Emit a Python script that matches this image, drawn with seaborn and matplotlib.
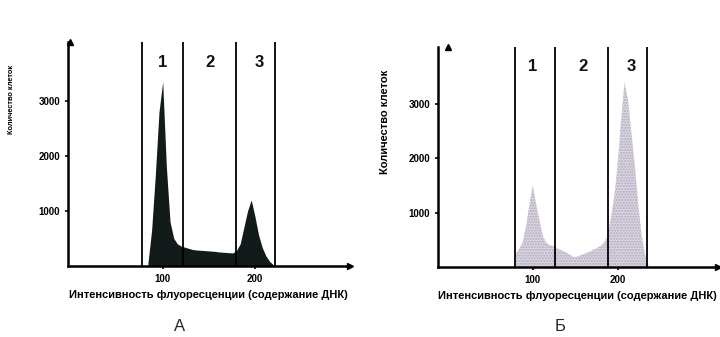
#!/usr/bin/env python3

import numpy as np
import pandas as pd
import matplotlib
matplotlib.use("Agg")
import matplotlib.pyplot as plt
import seaborn as sns

# DNA content histograms, bin width 4 (fluorescence units)
centers_a = [84, 88, 92, 96, 100, 104, 108, 112, 116, 120, 124, 128, 132, 136,
             140, 144, 148, 152, 156, 160, 164, 168, 172, 176, 180, 184, 188,
             192, 196, 200, 204, 208, 212, 216, 220]
counts_a = [50, 650, 1650, 2800, 3350, 1800, 800, 500, 400, 360, 340, 320, 300,
            290, 285, 280, 275, 270, 265, 255, 250, 245, 240, 235, 280, 400,
            700, 1000, 1200, 900, 560, 330, 180, 80, 20]

centers_b = [80, 84, 88, 92, 96, 100, 104, 108, 112, 116, 120, 124, 128, 132,
             136, 140, 144, 148, 152, 156, 160, 164, 168, 172, 176, 180, 184,
             188, 192, 196, 200, 204, 208, 212, 216, 220, 224, 228, 232, 236]
counts_b = [250, 330, 450, 750, 1150, 1500, 1150, 850, 560, 440, 400, 390, 350,
            320, 290, 260, 220, 180, 190, 210, 240, 260, 290, 320, 350, 390,
            450, 570, 900, 1300, 1900, 2700, 3400, 3100, 2500, 1900, 1200, 600,
            250, 50]

# gates separating G1 / S / G2+M
gates_a = [78, 122, 179, 222]
gates_b = [79, 126, 188, 234]
gate_names = ["1", "2", "3"]
gate_label_x_a = [100, 151, 205]
gate_label_x_b = [100, 159, 216]

xticks = [100, 200]
yticks = [1000, 2000, 3000]
xlabel = "Интенсивность флуоресценции (содержание ДНК)"
ylabel = "Количество клеток"


def draw_panel(ax, centers, counts, gates, label_x, color, xlim, ylim,
               ylab_size, ylab_pos, hatch=None):
    df = pd.DataFrame({"x": centers, "n": counts})
    sns.histplot(data=df, x="x", weights="n", binwidth=4,
                 binrange=(centers[0] - 2, centers[-1] + 2), element="poly",
                 fill=True, color=color, alpha=1, linewidth=0, ax=ax)
    if hatch:
        for coll in ax.collections:
            coll.set_hatch(hatch)
            coll.set_edgecolor("#adadb5")

    for g in gates:
        ax.axvline(g, color="black", lw=1.3)
    for name, x in zip(gate_names, label_x):
        ax.text(x, 3700, name, ha="center", va="center",
                fontsize=12, fontweight="bold", color="#111111")

    ax.set_xlim(*xlim)
    ax.set_ylim(*ylim)
    ax.set_xticks(xticks)
    ax.set_yticks(yticks)
    ax.tick_params(left=True, bottom=True, direction="out", length=2.5,
                   width=1.2, labelsize=7, pad=3, colors="black")
    for t in ax.get_xticklabels() + ax.get_yticklabels():
        t.set_fontweight("bold")

    for side in ["top", "right"]:
        ax.spines[side].set_visible(False)
    for side in ["left", "bottom"]:
        ax.spines[side].set_linewidth(1.8)
        ax.spines[side].set_color("black")
    ax.plot(1, 0, ">k", ms=5, transform=ax.get_yaxis_transform(), clip_on=False)
    ax.plot(0, 1, "^k", ms=5, transform=ax.get_xaxis_transform(), clip_on=False)

    ax.set_xlabel(xlabel, fontsize=8, fontweight="bold", labelpad=5,
                  color="black")
    ax.set_ylabel(ylabel, fontsize=ylab_size, fontweight="bold", color="black")
    ax.yaxis.set_label_coords(*ylab_pos)


sns.set_style("white")
plt.rcParams['font.family'] = ['Liberation Sans', 'DejaVu Sans']

fig = plt.figure(figsize=(7.2, 3.37), dpi=100)
ax_a = fig.add_axes([0.094, 0.211, 0.392, 0.664])
ax_b = fig.add_axes([0.608, 0.208, 0.389, 0.653])

draw_panel(ax_a, centers_a, counts_a, gates_a, gate_label_x_a, "#121a1a",
           (-3, 303), (0, 4070), 5.3, (-0.188, 0.745))
draw_panel(ax_b, centers_b, counts_b, gates_b, gate_label_x_b, "#ddd4e6",
           (-12, 318), (0, 4055), 8, (-0.171, 0.66), hatch="......")

fig.text(0.25, 0.03, "А", ha="center", va="center", fontsize=12)
fig.text(0.778, 0.03, "Б", ha="center", va="center", fontsize=12)

fig.savefig("out.png", dpi=100)
plt.close(fig)
